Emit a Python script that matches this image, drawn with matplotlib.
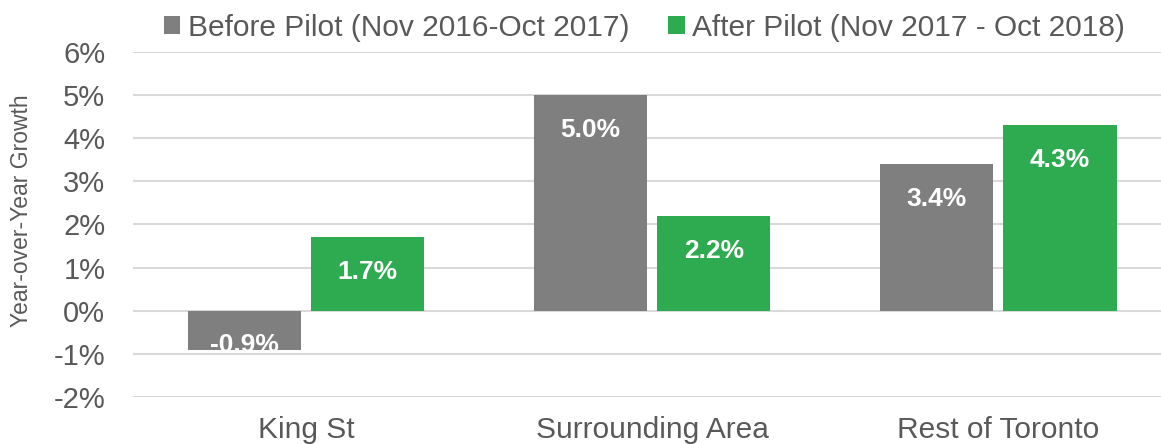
import numpy as np
import matplotlib.pyplot as plt

# data
kategorien = ["King St", "Surrounding Area", "Rest of Toronto"]
vor_pilot = [-0.9, 5.0, 3.4]
nach_pilot = [1.7, 2.2, 4.3]
name_vor = "Before Pilot (Nov 2016-Oct 2017)"
name_nach = "After Pilot (Nov 2017 - Oct 2018)"

grau = "#7f7f7f"
gruen = "#2eaa50"
textfarbe = "#595959"

plt.rcParams['font.family'] = ['Liberation Sans', 'DejaVu Sans']

fig = plt.figure(figsize=(11.61, 4.44), dpi=100)
ax = fig.add_axes([0.1146, 0.106, 0.8854, 0.777])

x = np.arange(len(kategorien))
breite = 0.327
versatz = 0.178

b1 = ax.bar(x - versatz, vor_pilot, breite, color=grau, label=name_vor, zorder=3)
b2 = ax.bar(x + versatz, nach_pilot, breite, color=gruen, label=name_nach, zorder=3)

# Beschriftungen in den Balken
for balken, werte in [(b1, vor_pilot), (b2, nach_pilot)]:
    for r, v in zip(balken, werte):
        ax.annotate(f"{v:.1f}%", (r.get_x() + r.get_width() / 2, max(v, 0)),
                    xytext=(0, -25), textcoords="offset points",
                    ha="center", va="center", color="white",
                    fontsize=19, fontweight="bold", zorder=4)

ax.set_ylim(-2, 6)
ax.set_xlim(-0.5, 2.47)
ax.set_yticks(np.arange(-2, 7, 1))
ax.set_yticklabels([f"{t}%" for t in range(-2, 7)])
ax.set_xticks(x)
ax.set_xticklabels(kategorien)
ax.tick_params(axis="y", length=0, pad=20, labelsize=21, labelcolor=textfarbe)
ax.tick_params(axis="x", length=0, pad=14, labelsize=21.5, labelcolor=textfarbe)
ax.grid(axis="y", color="#d9d9d9", linewidth=1.5, zorder=0)
for s in ax.spines.values():
    s.set_visible(False)

ax.set_ylabel("Year-over-Year Growth", fontsize=16.5, color=textfarbe)
ax.yaxis.set_label_coords(-0.097, 0.54)

fig.legend(loc="center", bbox_to_anchor=(0.555, 0.938), ncol=2, frameon=False,
           fontsize=21.5, labelcolor=textfarbe, handlelength=0.55, handleheight=0.55,
           handletextpad=0.25, columnspacing=1.3)

fig.savefig("out.png", dpi=100)
